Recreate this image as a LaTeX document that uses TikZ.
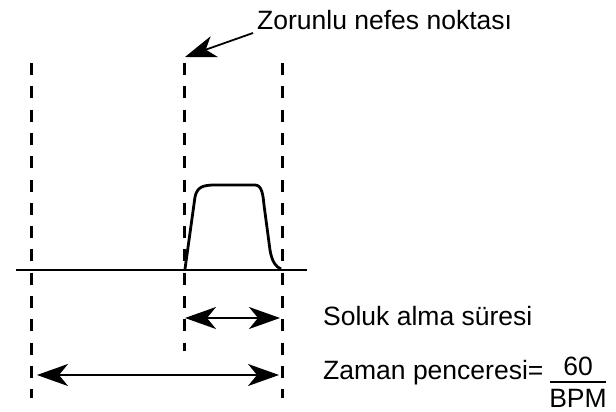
\documentclass[tikz,border=0pt]{standalone}
\usepackage{fontspec}
\setmainfont{Liberation Sans}
\usetikzlibrary{arrows.meta}
\tikzset{
  guide/.style={line width=3pt,dash pattern=on 12pt off 11.3pt},
  tip/.style={Stealth[length=31pt,width=22pt,inset=9pt]},
  span/.style={line width=1.8pt,{Stealth[length=31pt,width=22pt,inset=9pt]}-{Stealth[length=31pt,width=22pt,inset=9pt]}},
  label/.style={inner sep=0pt,font=\fontsize{26.5}{30}\selectfont}
}
\begin{document}
\begin{tikzpicture}[x=1pt,y=-1pt]
  \useasboundingbox (0,0) rectangle (616,412);
  \coordinate (Ltop) at (31,63);
  \coordinate (Lbot) at (31,398);
  \coordinate (Mtop) at (184,63);
  \coordinate (Mbot) at (184,351);
  \coordinate (Rtop) at (282,63);
  \coordinate (Rbot) at (282,398);
  % dashed guides
  \draw[guide] (Ltop) -- (Lbot);
  \draw[guide] (Mtop) -- (Mbot);
  \draw[guide] (Rtop) -- (Rbot);
  % baseline and pulse
  \draw[line width=2.8pt] (16,270) -- (307,270);
  \draw[line width=2.8pt,line join=round] (185,269) -- (195,197)
    .. controls (197,187) and (203,185) .. (215,185) -- (255,185)
    .. controls (262,185) and (263,195) .. (264,205) -- (270,250)
    .. controls (272,262) and (276,267) .. (281,269);
  % arrows
  \draw[span] (185,318) -- (280,318);
  \draw[span] (37,375) -- (279,375);
  % labels
  \node[label,anchor=base west] (zorunlu) at (257,30) {Zorunlu nefes noktası};
  \coordinate (tail) at (253,33);
  \draw[line width=1.8pt,-{Stealth[length=31pt,width=22pt,inset=9pt]}] (tail) -- (185,57);
  \node[label,anchor=base west] (soluk) at (323,325) {Soluk alma süresi};
  \node[label,anchor=base west] (zaman) at (323,379) {Zaman penceresi=};
  \node[label,anchor=base] (num) at (578,375) {60};
  \node[label,anchor=base] (den) at (578,407) {BPM};
  \draw[line width=2.4pt] (550,382) -- (606,382);
\end{tikzpicture}
\end{document}
